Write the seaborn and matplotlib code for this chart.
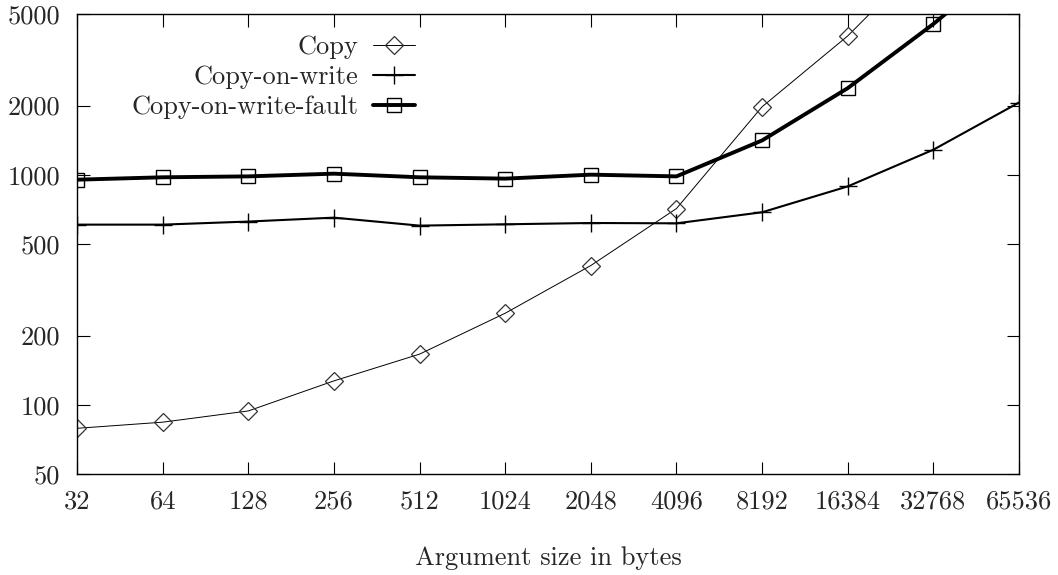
import matplotlib
matplotlib.use("Agg")
import matplotlib.pyplot as plt
import seaborn as sns
import pandas as pd
import numpy as np

# ---- data ----
sizes = [32, 64, 128, 256, 512, 1024, 2048, 4096, 8192, 16384, 32768, 65536]
tick_labels = ["32", "64", "128", "256", "512", "1024", "2048", "4096",
               "8192", "16384", "32768", "65536"]
copy_vals = [79, 84, 94, 127, 166, 250, 403, 713, 1975, 4014, 9500, np.nan]
cow_vals = [607, 607, 626, 651, 601, 609, 617, 615, 687, 890, 1285, 2061]
cowf_vals = [952, 975, 984, 1011, 975, 962, 1001, 984, 1410, 2380, 4524, 9200]
series_names = ["Copy", "Copy-on-write", "Copy-on-write-fault"]
y_ticks = [50, 100, 200, 500, 1000, 2000, 5000]
y_tick_labels = ["50", "100", "200", "500", "1000", "2000", "5000"]

df = pd.DataFrame({
    "size": sizes * 3,
    "value": copy_vals + cow_vals + cowf_vals,
    "series": [series_names[0]] * 12 + [series_names[1]] * 12 + [series_names[2]] * 12,
})

sns.set_style("ticks")
plt.rcParams["font.family"] = ["cmr10", "DejaVu Serif"]
plt.rcParams["axes.formatter.use_mathtext"] = True
plt.rcParams["mathtext.fontset"] = "cm"

FS = 19

fig = plt.figure(figsize=(10.58, 5.75), dpi=100)
ax = fig.add_axes([77 / 1058, 1 - 474 / 575, (1019 - 77) / 1058, (474 - 14) / 575])

styles = {
    "Copy": dict(marker="D", markersize=9.0, linewidth=0.7, markerfacecolor="none",
                 markeredgecolor="#333333", markeredgewidth=0.9),
    "Copy-on-write": dict(marker="+", markersize=13, linewidth=1.5,
                          markeredgecolor="black", markeredgewidth=1.0),
    "Copy-on-write-fault": dict(marker="s", markersize=10.5, linewidth=2.8,
                                markerfacecolor="none", markeredgecolor="black",
                                markeredgewidth=1.0),
}

for name in series_names:
    sub = df[df["series"] == name].dropna()
    sns.lineplot(data=sub, x="size", y="value", ax=ax, color="black",
                 label=name, **styles[name])

ax.set_xscale("log", base=2)
ax.set_yscale("log", base=10)
ax.set_xlim(32, 65536)
ax.set_ylim(50, 5000)
ax.set_xticks(sizes)
ax.set_xticklabels(tick_labels)
ax.set_yticks(y_ticks)
ax.set_yticklabels(y_tick_labels)
ax.minorticks_off()

ax.tick_params(axis="both", which="major", direction="in", length=9, width=0.8,
               top=True, right=True, labelsize=FS, color="black")
ax.tick_params(axis="x", pad=11)
ax.tick_params(axis="y", pad=12)
for sp in ax.spines.values():
    sp.set_visible(True)
    sp.set_linewidth(1.0)
    sp.set_color("black")

ax.set_xlabel("Argument size in bytes", fontsize=FS, labelpad=24)
ax.set_ylabel("")

leg = ax.legend(loc="upper right", bbox_to_anchor=(0.359, 0.953), frameon=False,
                markerfirst=False, fontsize=FS, handlelength=1.6,
                handletextpad=0.55, labelspacing=0.23, borderaxespad=0,
                borderpad=0)

fig.savefig("out.png", dpi=100)
